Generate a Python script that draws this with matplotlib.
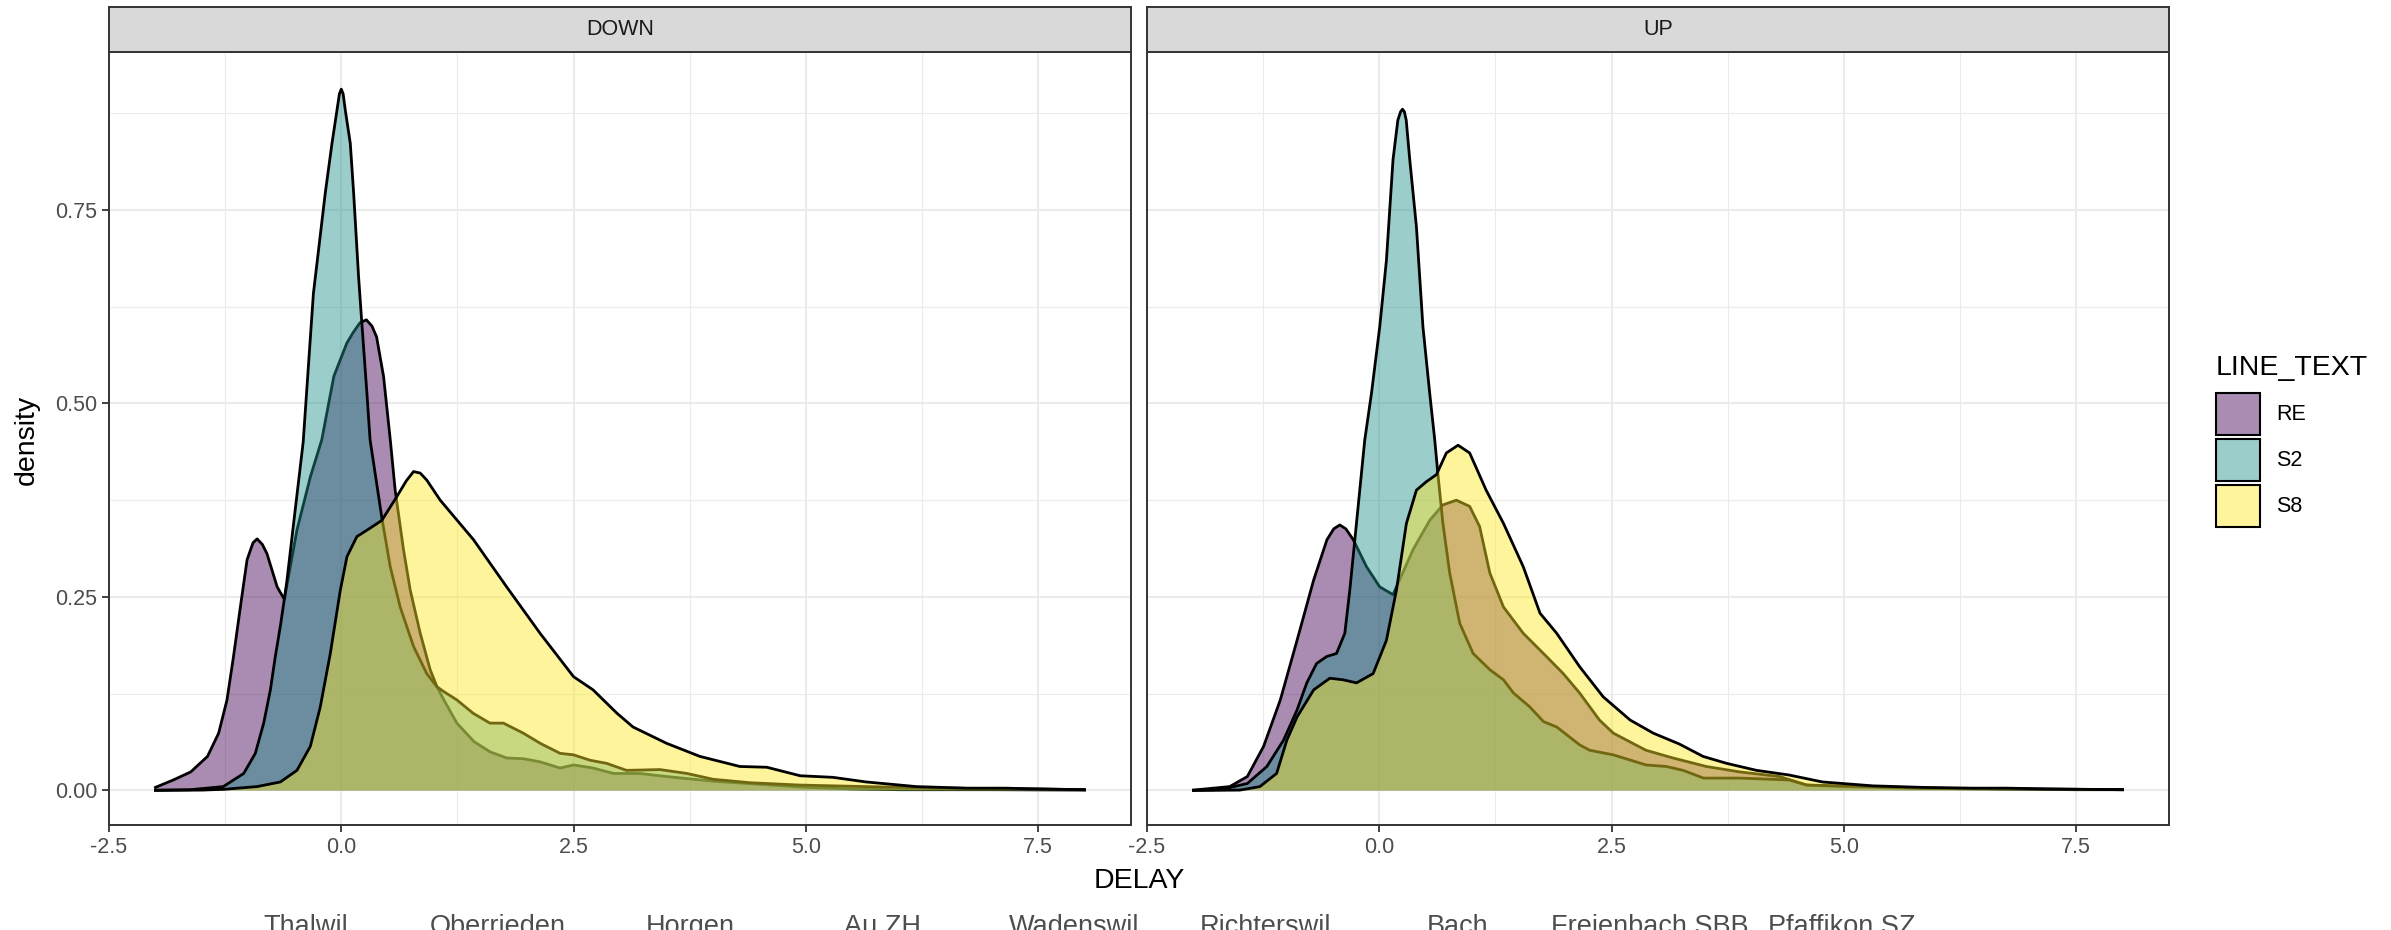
import matplotlib
matplotlib.use("Agg")
import matplotlib.pyplot as plt
from matplotlib.patches import Rectangle
from matplotlib.ticker import FixedLocator, FixedFormatter

plt.rcParams['font.family'] = ['Liberation Sans', 'DejaVu Sans']
plt.rcParams['axes.unicode_minus'] = False

# ---------------- data ----------------
facets = ["DOWN", "UP"]
lines = ["RE", "S2", "S8"]
line_colors = ["#440154", "#21908C", "#FDE725"]

down_re_x = [-2.0, -1.80, -1.62, -1.44, -1.32, -1.23, -1.16, -1.086, -1.014, -0.95, -0.906, -0.85, -0.80, -0.69,
             -0.613, -0.476, -0.333, -0.21, -0.08, 0.06, 0.13, 0.20, 0.27, 0.33, 0.38, 0.455, 0.53, 0.58,
             0.67, 0.742, 0.85, 0.957, 1.03, 1.10, 1.244, 1.43, 1.60, 1.78, 1.96, 2.14, 2.355, 2.50,
             2.71, 2.93, 3.215, 3.5, 4.0, 4.5, 5.0, 5.5, 6.0, 7.0, 8.0]
down_re_y = [0.004, 0.014, 0.024, 0.044, 0.074, 0.117, 0.173, 0.237, 0.298, 0.320, 0.325, 0.318, 0.306, 0.263,
             0.247, 0.337, 0.405, 0.453, 0.535, 0.578, 0.592, 0.604, 0.608, 0.600, 0.586, 0.535, 0.45, 0.388,
             0.311, 0.259, 0.203, 0.156, 0.134, 0.118, 0.087, 0.063, 0.050, 0.042, 0.041, 0.037, 0.029, 0.033,
             0.029, 0.022, 0.022, 0.018, 0.012, 0.008, 0.004, 0.002, 0.001, 0.001, 0.0005]

down_s2_x = [-2.0, -1.63, -1.27, -1.05, -0.925, -0.835, -0.763, -0.71, -0.656, -0.613, -0.584, -0.513,
             -0.41, -0.30, -0.172, -0.10, -0.046, -0.02, 0.0, 0.02, 0.043, 0.097, 0.133, 0.186, 0.22, 0.276, 0.31,
             0.437, 0.527, 0.634, 0.778, 0.92, 1.03, 1.10, 1.244, 1.42, 1.60, 1.745, 1.96, 2.14, 2.355,
             2.50, 2.68, 2.857, 3.07, 3.43, 3.72, 4.0, 4.40, 4.935, 5.65, 6.5, 7.5, 8.0]
down_s2_y = [0.0005, 0.001, 0.005, 0.022, 0.048, 0.087, 0.130, 0.173, 0.212, 0.247, 0.272, 0.345,
             0.45, 0.642, 0.772, 0.836, 0.879, 0.900, 0.906, 0.900, 0.879, 0.836, 0.772, 0.664, 0.606, 0.513, 0.453,
             0.352, 0.289, 0.237, 0.186, 0.151, 0.134, 0.128, 0.117, 0.0997, 0.087, 0.087, 0.074, 0.061, 0.048,
             0.046, 0.039, 0.035, 0.026, 0.027, 0.022, 0.0145, 0.010, 0.007, 0.005, 0.003, 0.002, 0.001]

down_s8_x = [-2.0, -1.5, -1.265, -0.907, -0.656, -0.477, -0.333, -0.226, -0.118, -0.01, 0.061, 0.168,
             0.312, 0.437, 0.60, 0.70, 0.778, 0.85, 0.92, 1.065, 1.423, 1.78, 2.14, 2.50, 2.71, 2.965,
             3.14, 3.50, 3.86, 4.29, 4.58, 4.94, 5.29, 5.65, 6.19, 6.73, 7.16, 7.44, 8.0]
down_s8_y = [0.0, 0.0005, 0.0015, 0.005, 0.011, 0.026, 0.057, 0.108, 0.177, 0.259, 0.302, 0.328,
             0.339, 0.349, 0.380, 0.400, 0.412, 0.410, 0.401, 0.375, 0.324, 0.263, 0.203, 0.147, 0.130, 0.100,
             0.082, 0.061, 0.044, 0.031, 0.030, 0.019, 0.017, 0.011, 0.005, 0.003, 0.003, 0.002, 0.001]

up_re_x = [-2.0, -1.61, -1.42, -1.245, -1.065, -0.885, -0.706, -0.563, -0.49, -0.425, -0.36, -0.28, -0.137, 0.005,
           0.148, 0.363, 0.543, 0.686, 0.83, 0.973, 1.08, 1.19, 1.337, 1.55, 1.80, 1.98, 2.156, 2.37,
           2.52, 2.87, 3.16, 3.52, 3.88, 4.31, 4.60, 4.96, 5.67, 6.5, 7.5, 8.0]
up_re_y = [0.0005, 0.005, 0.018, 0.057, 0.117, 0.194, 0.272, 0.324, 0.338, 0.343, 0.338, 0.324, 0.289, 0.263,
           0.253, 0.311, 0.349, 0.369, 0.375, 0.367, 0.341, 0.281, 0.237, 0.203, 0.173, 0.151, 0.126, 0.091,
           0.074, 0.052, 0.042, 0.031, 0.024, 0.018, 0.007, 0.005, 0.003, 0.002, 0.001, 0.001]

up_s2_x = [-2.0, -1.71, -1.42, -1.21, -1.03, -0.885, -0.78, -0.675, -0.567, -0.46, -0.371, -0.317,
           -0.263, -0.21, -0.156, -0.084, 0.005, 0.077, 0.148, 0.20, 0.23, 0.25, 0.27, 0.29, 0.328, 0.40, 0.47,
           0.543, 0.597, 0.63, 0.685, 0.758, 0.866, 1.01, 1.19, 1.337, 1.444, 1.62, 1.767, 1.91, 2.156,
           2.263, 2.52, 2.87, 3.09, 3.27, 3.49, 3.88, 4.41, 4.60, 5.31, 5.84, 7.0, 8.0]
up_s2_y = [0.0003, 0.001, 0.009, 0.031, 0.065, 0.104, 0.139, 0.164, 0.173, 0.177, 0.203, 0.259,
           0.324, 0.388, 0.453, 0.513, 0.599, 0.685, 0.815, 0.866, 0.877, 0.880, 0.877, 0.866, 0.815, 0.728, 0.599,
           0.513, 0.453, 0.41, 0.345, 0.281, 0.216, 0.177, 0.156, 0.143, 0.126, 0.108, 0.089, 0.082, 0.059,
           0.052, 0.046, 0.033, 0.031, 0.026, 0.016, 0.016, 0.0136, 0.007, 0.005, 0.003, 0.002, 0.001]

up_s8_x = [-2.0, -1.5, -1.285, -1.105, -0.995, -0.885, -0.706, -0.532, -0.39, -0.245, -0.066, 0.077,
           0.185, 0.292, 0.40, 0.508, 0.615, 0.722, 0.848, 0.973, 1.15, 1.337, 1.55, 1.73, 1.91, 2.156,
           2.41, 2.70, 2.95, 3.23, 3.485, 3.74, 4.06, 4.41, 4.77, 5.31, 5.85, 6.39, 6.75, 7.2, 8.0]
up_s8_y = [0.0, 0.0005, 0.005, 0.022, 0.065, 0.095, 0.130, 0.145, 0.143, 0.139, 0.151, 0.194,
           0.259, 0.345, 0.388, 0.399, 0.408, 0.436, 0.446, 0.436, 0.388, 0.345, 0.289, 0.229, 0.203, 0.160,
           0.121, 0.091, 0.074, 0.060, 0.044, 0.035, 0.026, 0.020, 0.011, 0.006, 0.004, 0.003, 0.003, 0.002, 0.001]

x_ticks = [-2.5, 0.0, 2.5, 5.0, 7.5]
x_tick_labels = ["-2.5", "0.0", "2.5", "5.0", "7.5"]
x_minor = [-1.25, 1.25, 3.75, 6.25]
y_ticks = [0.0, 0.25, 0.5, 0.75]
y_tick_labels = ["0.00", "0.25", "0.50", "0.75"]
y_minor = [0.125, 0.375, 0.625, 0.875]

stations = ["Thalwil", "Oberrieden", "Horgen", "Au ZH", "Wadenswil",
            "Richterswil", "Bach", "Freienbach SBB", "Pfaffikon SZ"]

series = {
    "DOWN": [(down_re_x, down_re_y), (down_s2_x, down_s2_y), (down_s8_x, down_s8_y)],
    "UP": [(up_re_x, up_re_y), (up_s2_x, up_s2_y), (up_s8_x, up_s8_y)],
}

# ---------------- layout ----------------
W, H = 2391, 930
fig = plt.figure(figsize=(W / 100, H / 100), dpi=100)

def fx(px):
    return px / W

def fy(py):
    return 1 - py / H

panel_left = [109, 1147]
panel_w = 1022
panel_top, panel_bot = 52, 825
strip_top = 7

ALPHA = 0.45
GRID = "#EBEBEB"
DARK = "#333333"
TICKC = "#4D4D4D"

for i, facet in enumerate(facets):
    ax = fig.add_axes([fx(panel_left[i]), fy(panel_bot), panel_w / W, (panel_bot - panel_top) / H])
    ax.set_xlim(-2.5, 8.5)
    ax.set_ylim(-0.0446, 0.954)
    ax.set_axisbelow(True)
    ax.xaxis.set_major_locator(FixedLocator(x_ticks))
    ax.xaxis.set_major_formatter(FixedFormatter(x_tick_labels))
    ax.xaxis.set_minor_locator(FixedLocator(x_minor))
    ax.yaxis.set_major_locator(FixedLocator(y_ticks))
    ax.yaxis.set_major_formatter(FixedFormatter(y_tick_labels))
    ax.yaxis.set_minor_locator(FixedLocator(y_minor))
    ax.grid(which="major", color=GRID, lw=1.5)
    ax.grid(which="minor", color=GRID, lw=0.8)
    ax.tick_params(which="minor", length=0)
    ax.tick_params(which="major", length=5, width=1.3, color=DARK,
                   labelsize=15.5, labelcolor=TICKC, pad=3.5)
    if i == 1:
        ax.tick_params(axis="y", which="both", left=False, labelleft=False)
    for s in ax.spines.values():
        s.set_color(DARK)
        s.set_linewidth(1.4)
        s.set_zorder(20)

    # ggplot draws each group as fill then outline, group after group
    for j, ((xs, ys), col) in enumerate(zip(series[facet], line_colors)):
        ax.fill_between(xs, 0, ys, facecolor=col, alpha=ALPHA, lw=0, zorder=3 + 2 * j)
        ax.plot(xs, ys, color="black", lw=2.0, solid_joinstyle="round", zorder=4 + 2 * j)

    # strip
    sax = fig.add_axes([fx(panel_left[i]), fy(panel_top), panel_w / W, (panel_top - strip_top) / H])
    sax.set_facecolor("#D9D9D9")
    sax.set_xticks([])
    sax.set_yticks([])
    for s in sax.spines.values():
        s.set_color(DARK)
        s.set_linewidth(1.4)
    sax.text(0.5, 0.5, facet, ha="center", va="center", fontsize=15.5, color="#1A1A1A",
             transform=sax.transAxes)

# axis titles
fig.text(fx(1139), fy(881), "DELAY", ha="center", va="center", fontsize=20.5, color="black")
fig.text(fx(27), fy(440), "density", ha="center", va="center", rotation=90, fontsize=20.5,
         color="black")

# legend (drawn manually, ggplot style)
fig.text(fx(2216), fy(375), "LINE_TEXT", ha="left", va="baseline", fontsize=20.5, color="black")
key_top0, key_h, key_w = 393, 42, 44
for j, (lab, col) in enumerate(zip(lines, line_colors)):
    top = key_top0 + j * 46
    fig.patches.append(Rectangle((fx(2216), fy(top + key_h)), key_w / W, key_h / H,
                                 transform=fig.transFigure, facecolor=matplotlib.colors.to_rgba(col, ALPHA),
                                 edgecolor="black", lw=1.5))
    fig.text(fx(2276), fy(top + key_h / 2), lab, ha="left", va="center", fontsize=15.5, color="black")

# station names along the bottom (cut by the figure edge, as in the reference)
for k, name in enumerate(stations):
    fig.text(fx(306 + 192 * k), fy(934), name, ha="center", va="baseline", fontsize=19.5,
             color=TICKC)

fig.savefig("out.png", dpi=100, facecolor="white")
